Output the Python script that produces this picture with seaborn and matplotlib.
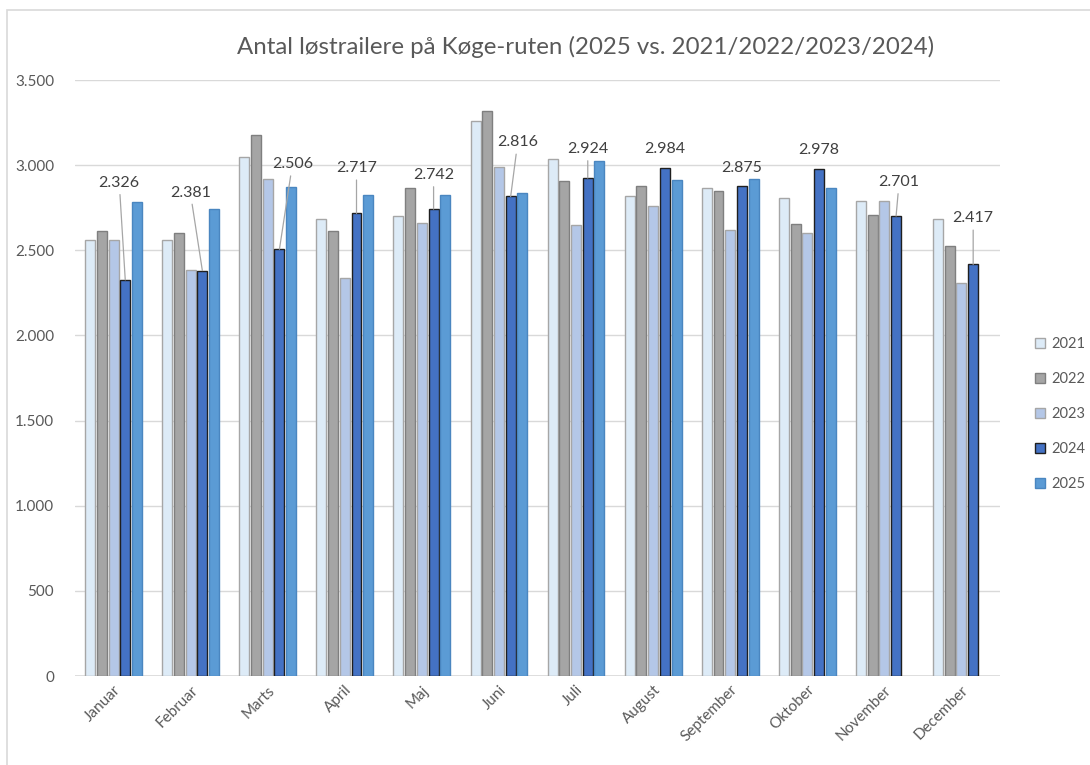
import numpy as np
import pandas as pd
import matplotlib
matplotlib.use("Agg")
import matplotlib.pyplot as plt
import seaborn as sns
from matplotlib.patches import Rectangle
from matplotlib.ticker import FuncFormatter

# Data
months = ["Januar", "Februar", "Marts", "April", "Maj", "Juni", "Juli",
          "August", "September", "Oktober", "November", "December"]
years = ["2021", "2022", "2023", "2024", "2025"]

v2021 = [2560, 2560, 3046, 2682, 2703, 3259, 3034, 2819, 2868, 2809, 2789, 2686]
v2022 = [2613, 2603, 3177, 2615, 2863, 3320, 2909, 2878, 2846, 2652, 2705, 2524]
v2023 = [2560, 2384, 2918, 2335, 2662, 2991, 2651, 2758, 2619, 2600, 2789, 2310]
v2024 = [2326, 2381, 2506, 2717, 2742, 2816, 2924, 2984, 2875, 2978, 2701, 2417]
v2025 = [2784, 2742, 2873, 2825, 2825, 2835, 3024, 2913, 2919, 2863, np.nan, np.nan]

# Style
fills = ["#DDEBF7", "#A5A5A5", "#B4C7E7", "#4472C4", "#5B9BD5"]
edges = ["#A6A6A6", "#7F7F7F", "#A6A6A6", "#1F1F1F", "#4A86C0"]
text_col = "#595959"

# label offsets (pixels) for the 2024 data labels, relative to bar top
label_dx = [-6, -12, 13, 0, 0, 7, 0, 0, 0, 0, 3, 0]
label_dy = [97, 78, 85, 45, 34, 54, 29, 19, 18, 19, 34, 46]

df = pd.DataFrame({
    "month": np.repeat(months, len(years)),
    "year": np.tile(years, len(months)),
    "value": np.ravel(np.column_stack([v2021, v2022, v2023, v2024, v2025])),
})

sns.set_theme(style="white")
plt.rcParams["font.family"] = ["Lato", "DejaVu Sans"]

fig = plt.figure(figsize=(10.9, 7.65), dpi=100)
ax = fig.add_axes([75 / 1090, 1 - 676 / 765, 925 / 1090, 596 / 765])

sns.barplot(data=df, x="month", y="value", hue="year", order=months,
            hue_order=years, palette=fills, width=0.76, gap=0.15,
            errorbar=None, ax=ax, legend=False, zorder=3)

for cont, ec, fc in zip(ax.containers, edges, fills):
    for bar in cont:
        bar.set_edgecolor(ec)
        bar.set_linewidth(1.0)
        bar.set_facecolor(fc)

ax.set_ylim(0, 3500)
ax.set_xlim(-0.5, len(months) - 0.5)
ax.set_yticks(np.arange(0, 3501, 500))
ax.yaxis.set_major_formatter(FuncFormatter(lambda v, _: f"{int(v):,}".replace(",", ".")))
ax.grid(axis="y", color="#D9D9D9", linewidth=1.0, zorder=0)
ax.set_axisbelow(True)
for s in ax.spines.values():
    s.set_visible(False)
ax.axhline(0, color="#D9D9D9", linewidth=1.2, zorder=2)
ax.set_xlabel("")
ax.set_ylabel("")
ax.tick_params(axis="y", length=0, pad=15, labelsize=11, labelcolor=text_col)
ax.tick_params(axis="x", length=0, pad=5, labelsize=11, labelcolor=text_col)
for lbl in ax.get_xticklabels():
    lbl.set_rotation(45)
    lbl.set_ha("right")
    lbl.set_rotation_mode("anchor")

# data labels for 2024 with leader lines
bars24 = ax.containers[3]
for bar, val, dx, dy in zip(bars24, v2024, label_dx, label_dy):
    x = bar.get_x() + bar.get_width() / 2
    arrow = None
    if dy > 25:
        arrow = dict(arrowstyle="-", color="#A6A6A6", lw=0.9,
                     shrinkA=1, shrinkB=0)
    ax.annotate(f"{val:,}".replace(",", "."), xy=(x, val),
                xytext=(dx, dy), textcoords="offset pixels",
                ha="center", va="center", fontsize=11.5, color="#404040",
                arrowprops=arrow, zorder=5)

# title
fig.text(586 / 1090, 1 - 47 / 765,
         "Antal løstrailere på Køge-ruten (2025 vs. 2021/2022/2023/2024)",
         ha="center", va="center", fontsize=17.3, color=text_col)

# legend
handles = [Rectangle((0, 0), 1, 1, facecolor=f, edgecolor=e, linewidth=1.0)
           for f, e in zip(fills, edges)]
fig.legend(handles, years, loc="center left",
           bbox_to_anchor=(1022 / 1090, 1 - 414 / 765), frameon=False,
           fontsize=10.5, labelcolor=text_col, handlelength=0.7,
           handleheight=0.7, handletextpad=0.4, labelspacing=1.45)

# outer chart border
fig.patches.append(Rectangle((7 / 1090, -0.01), 1.1, 1 - 10 / 765 + 0.01,
                             transform=fig.transFigure, fill=False,
                             edgecolor="#D9D9D9", linewidth=1.2))

fig.savefig("out.png", dpi=100, facecolor="white")
